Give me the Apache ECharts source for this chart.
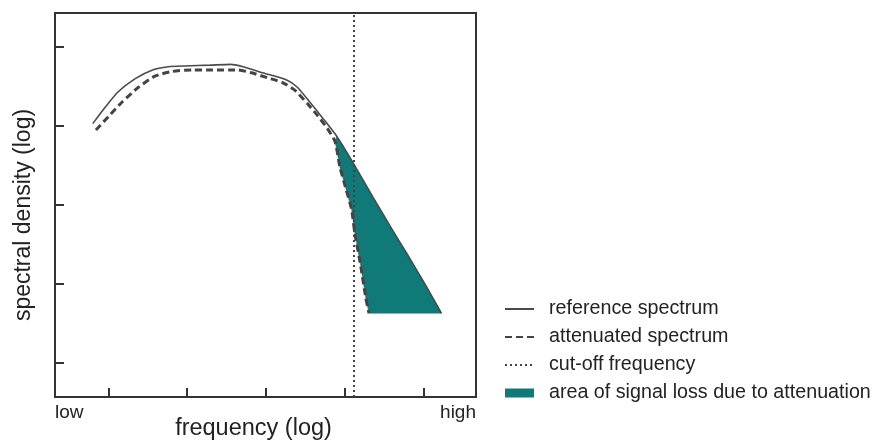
<!DOCTYPE html>
<html>
<head>
<meta charset="utf-8">
<script src="https://cdn.jsdelivr.net/npm/echarts@6/dist/echarts.min.js"></script>
<style>
html, body { margin: 0; padding: 0; background: #fff; }
#chart { width: 875px; height: 441px; }
</style>
</head>
<body>
<div id="chart"></div>
<script>
// frequency in log units (one tick = one step), density in log units
var refFreq = [0.80, 0.96, 1.12, 1.34, 1.56, 1.76, 1.97, 2.29, 2.55, 2.71, 2.97, 3.27, 3.40, 3.56, 3.73, 3.90, 4.11, 4.36, 4.58, 4.80, 5.02, 5.23];
var refDensity = [4.03, 4.24, 4.43, 4.60, 4.71, 4.75, 4.76, 4.77, 4.78, 4.75, 4.67, 4.58, 4.49, 4.30, 4.09, 3.87, 3.53, 3.10, 2.73, 2.37, 2.00, 1.63];

var attFreq = [0.84, 1.00, 1.17, 1.38, 1.59, 1.81, 2.06, 2.32, 2.64, 2.83, 3.02, 3.21, 3.37, 3.53, 3.65, 3.78, 3.88, 3.94, 4.01, 4.09, 4.13, 4.20, 4.27, 4.31];
var attDensity = [3.95, 4.12, 4.30, 4.49, 4.63, 4.69, 4.71, 4.71, 4.71, 4.67, 4.61, 4.55, 4.45, 4.28, 4.14, 3.97, 3.80, 3.48, 3.23, 2.94, 2.64, 2.26, 1.82, 1.63];

var cutoffFreq = 4.12;
var lossStart = 3.88;

var xTicks = [1, 2, 3, 4, 5];
var yTicks = [1, 2, 3, 4, 5];
var xEndLabels = ['low', 'high'];

var xMin = 0.32, xMax = 5.67;
var yMin = 0.57, yMax = 5.43;

var font = '"Liberation Sans", Arial, Helvetica, sans-serif';
var lineColor = '#4a4a4a';

function pairs(xs, ys) {
	var out = [];
	for (var i = 0; i < xs.length; i++) out.push([xs[i], ys[i]]);
	return out;
}

var refData = pairs(refFreq, refDensity);
var attData = pairs(attFreq, attDensity);

// polygon: reference curve forward, attenuated curve back
var lossData = refData.filter(function (p) { return p[0] >= lossStart; })
	.concat(attData.filter(function (p) { return p[0] >= lossStart; }).reverse());

var chart = echarts.init(document.getElementById('chart'));

var hideSymbol = { opacity: 0 };

var option = {
	animation: false,
	textStyle: { fontFamily: font },
	grid: {
		show: true,
		left: 55,
		right: 399,
		top: 13,
		bottom: 44,
		outerBoundsMode: 'none',
		containLabel: false,
		borderColor: '#333',
		borderWidth: 2,
		backgroundColor: 'transparent'
	},
	legend: {
		orient: 'vertical',
		left: 504,
		top: 299,
		padding: 0,
		itemWidth: 29,
		itemHeight: 9,
		itemGap: 8,
		selectedMode: false,
		textStyle: {
			fontFamily: font,
			fontSize: 19.7,
			lineHeight: 19,
			color: '#222',
			padding: [0, 0, 0, 10]
		},
		data: [
			{ name: 'reference spectrum', itemStyle: hideSymbol },
			{ name: 'attenuated spectrum', itemStyle: hideSymbol },
			{ name: 'cut-off frequency', itemStyle: hideSymbol },
			{ name: 'area of signal loss due to attenuation', icon: 'rect' }
		]
	},
	xAxis: {
		type: 'value',
		min: xMin,
		max: xMax,
		name: 'frequency (log)',
		nameLocation: 'middle',
		nameGap: 20,
		nameMoveOverlap: false,
		nameTextStyle: { fontFamily: font, fontSize: 23.5, color: '#222', padding: [0, 24, 0, 0] },
		axisLine: { show: false },
		splitLine: { show: false },
		axisTick: {
			show: true,
			inside: true,
			length: 9,
			customValues: xTicks,
			lineStyle: { color: '#333', width: 2 }
		},
		axisLabel: {
			show: true,
			margin: 6,
			fontFamily: font,
			fontSize: 19,
			color: '#222',
			customValues: [xMin, xMax],
			alignMinLabel: 'left',
			alignMaxLabel: 'right',
			formatter: function (v) { return v < 3 ? xEndLabels[0] : xEndLabels[1]; }
		}
	},
	yAxis: {
		type: 'value',
		min: yMin,
		max: yMax,
		name: 'spectral density (log)',
		nameLocation: 'middle',
		nameGap: 20,
		nameMoveOverlap: false,
		nameTextStyle: { fontFamily: font, fontSize: 23, color: '#222', padding: [0, 20, 0, 0] },
		axisLine: { show: false },
		splitLine: { show: false },
		axisLabel: { show: false },
		axisTick: {
			show: true,
			inside: true,
			length: 9,
			customValues: yTicks,
			lineStyle: { color: '#333', width: 2 }
		}
	},
	series: [
		{
			name: 'area of signal loss due to attenuation',
			type: 'custom',
			z: 1,
			itemStyle: { color: '#107a79' },
			data: lossData,
			encode: { x: 0, y: 1 },
			renderItem: function (params, api) {
				if (params.dataIndex !== 0) return;
				var pts = lossData.map(function (p) { return api.coord(p); });
				return {
					type: 'polygon',
					shape: { points: pts },
					style: { fill: '#107a79', stroke: '#107a79', lineWidth: 0.5 }
				};
			}
		},
		{
			name: 'reference spectrum',
			type: 'line',
			z: 3,
			data: refData,
			smooth: 0.2,
			symbol: 'none',
			color: lineColor,
			lineStyle: { color: lineColor, width: 1.6 }
		},
		{
			name: 'attenuated spectrum',
			type: 'line',
			z: 3,
			data: attData,
			smooth: 0.2,
			symbol: 'none',
			color: '#444',
			lineStyle: { color: '#444', width: 3, type: [7, 4] }
		},
		{
			name: 'cut-off frequency',
			type: 'line',
			z: 4,
			data: [[cutoffFreq, yMin], [cutoffFreq, yMax]],
			symbol: 'none',
			color: '#444',
			lineStyle: { color: '#444', width: 2, type: [2, 3] }
		}
	]
};

chart.setOption(option);

window.onresize = function () {
	chart.resize();
};
</script>
</body>
</html>
